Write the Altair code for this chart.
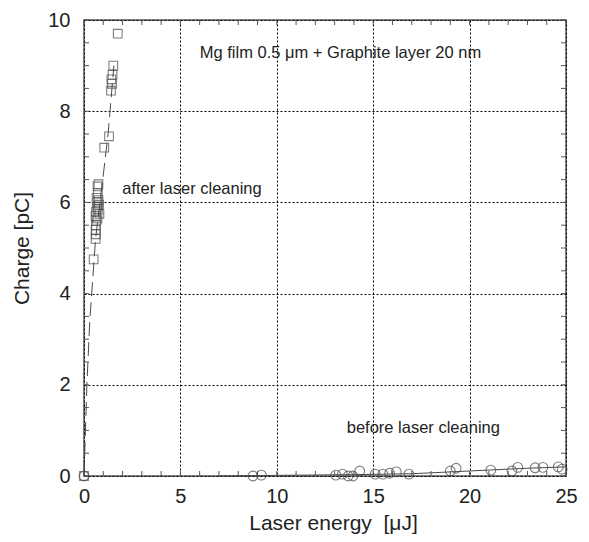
import altair as alt
import pandas as pd

# after laser cleaning (squares)
sq_x = [0.0, 0.5, 0.6, 0.62, 0.6, 0.62, 0.65, 0.7, 0.6, 0.8, 0.62, 0.72, 0.68, 0.78, 0.7, 0.75, 0.65, 0.72, 0.7, 0.75,
        1.05, 1.3, 1.4, 1.45, 1.42, 1.48, 1.52, 1.75]
sq_y = [0.0, 4.75, 5.2, 5.3, 5.4, 5.5, 5.6, 5.65, 5.7, 5.75, 5.8, 5.85, 5.9, 5.95, 6.0, 6.05, 6.1, 6.2, 6.35, 6.4,
        7.2, 7.45, 8.45, 8.6, 8.7, 8.8, 9.0, 9.7]
# before laser cleaning (circles)
ci_x = [0.0, 8.76, 9.2, 13.06, 13.4, 13.7, 13.95, 14.3, 15.1, 15.5, 15.85, 16.2, 16.85, 19.0, 19.3, 21.1, 22.2, 22.5,
        23.4, 23.8, 24.6, 24.8]
ci_y = [0.0, 0.0, 0.02, 0.02, 0.04, 0.0, 0.0, 0.11, 0.04, 0.04, 0.06, 0.09, 0.04, 0.11, 0.17, 0.13, 0.11, 0.19,
        0.18, 0.19, 0.2, 0.15]
# guide curves
fa_x = [0.0, 0.15, 0.3, 0.45, 0.6, 1.0, 1.25, 1.55]
fa_y = [0.0, 2.0, 3.4, 4.3, 5.2, 6.6, 7.5, 9.0]
fb_x = [7.0, 9.0, 14.0, 17.0, 19.0, 21.0, 23.0, 25.0]
fb_y = [0.0, 0.01, 0.03, 0.05, 0.09, 0.13, 0.17, 0.2]

x_major = [0, 5, 10, 15, 20, 25]
y_major = [0, 2, 4, 6, 8, 10]
x_minor = list(range(0, 26))
y_minor = [i * 0.5 for i in range(0, 21)]

labels_txt = ["Mg film 0.5 μm + Graphite layer 20 nm", "after laser cleaning", "before laser cleaning"]
labels_x = [13.3, 5.6, 17.6]
labels_y = [9.28, 6.3, 1.05]

W, H = 482, 456
FONT = "Liberation Sans"
GRAY = "#4a4a4a"
FRAME = "#555555"

sq = pd.DataFrame({"x": sq_x, "y": sq_y})
ci = pd.DataFrame({"x": ci_x, "y": ci_y})
fa = pd.DataFrame({"x": fa_x, "y": fa_y, "o": range(len(fa_x))})
fb = pd.DataFrame({"x": fb_x, "y": fb_y, "o": range(len(fb_x))})
xm = pd.DataFrame({"x": x_minor})
ym = pd.DataFrame({"y": y_minor})
lab = pd.DataFrame({"t": labels_txt, "x": labels_x, "y": labels_y})

xs = alt.Scale(domain=[0, 25], nice=False, zero=False)
ys = alt.Scale(domain=[0, 10], nice=False, zero=False)

xaxis = alt.Axis(values=x_major, title="Laser energy\u00a0\u00a0[μJ]", labelPadding=10, titlePadding=6,
                 titleX=W / 2 + 8)
yaxis = alt.Axis(values=y_major, title="Charge [pC]", labelPadding=14, titlePadding=15)

X = alt.X("x:Q", scale=xs, axis=xaxis)
Y = alt.Y("y:Q", scale=ys, axis=yaxis)

base_grid = alt.Chart(xm).mark_rule(opacity=0).encode(x=X)
base_grid_y = alt.Chart(ym).mark_rule(opacity=0).encode(y=Y)

tick_b = alt.Chart(xm).mark_rule(color=FRAME, strokeWidth=1).encode(
    x=X, y=alt.value(H), y2=alt.value(H - 5))
tick_t = alt.Chart(xm).mark_rule(color=FRAME, strokeWidth=1).encode(
    x=X, y=alt.value(0), y2=alt.value(5))
tick_l = alt.Chart(ym).mark_rule(color=FRAME, strokeWidth=1).encode(
    y=Y, x=alt.value(0), x2=alt.value(5))
tick_r = alt.Chart(ym).mark_rule(color=FRAME, strokeWidth=1).encode(
    y=Y, x=alt.value(W), x2=alt.value(W - 5))

line_a = alt.Chart(fa).mark_line(color=GRAY, strokeWidth=1, strokeDash=[14, 6]).encode(
    x=X, y=Y, order="o:Q")
line_b = alt.Chart(fb).mark_line(color=GRAY, strokeWidth=1).encode(
    x=X, y=Y, order="o:Q")

pts_sq = alt.Chart(sq).mark_point(shape="square", filled=False, color=GRAY, size=75, strokeWidth=1.1).encode(
    x=X, y=Y)
pts_ci = alt.Chart(ci).mark_point(shape="circle", filled=False, color=GRAY, size=95, strokeWidth=1.1).encode(
    x=X, y=Y)

texts = alt.Chart(lab).mark_text(font=FONT, fontSize=16.5, color="#222222", align="center", baseline="middle").encode(
    x=X, y=Y, text="t:N")

chart = alt.layer(base_grid, base_grid_y, line_a, line_b, pts_sq, pts_ci, tick_b, tick_t, tick_l, tick_r, texts).properties(
    width=W, height=H,
    background="white",
    autosize=alt.AutoSizeParams(type="none"),
    padding={"left": 76, "top": 12, "right": 15, "bottom": 60},
).configure_view(
    stroke=FRAME, strokeWidth=1.5
).configure_axis(
    grid=True, gridDash=[2, 2], gridColor="black", gridOpacity=1, gridWidth=1,
    ticks=False, domain=False, labelFontSize=20, titleFontSize=21,
    labelFont=FONT, titleFont=FONT, labelColor="#222222", titleColor="#222222",
    titleFontWeight="normal", labelFlush=False
)

chart.save("out.html", embed_options={"renderer": "svg", "actions": False})
